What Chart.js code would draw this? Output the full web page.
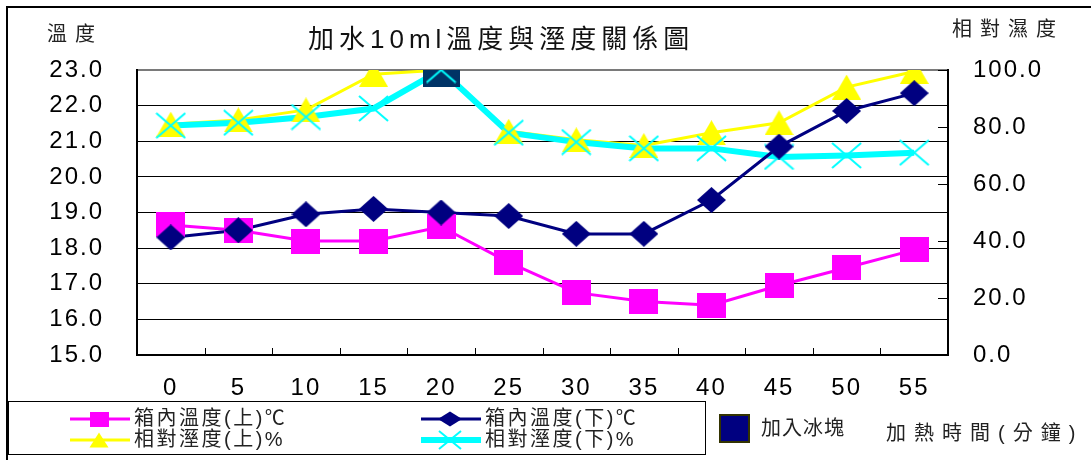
<!DOCTYPE html>
<html>
<head>
<meta charset="utf-8">
<script src="https://cdn.jsdelivr.net/npm/chart.js@4.4.0/dist/chart.umd.min.js"></script>
<style>
  html, body { margin: 0; padding: 0; background: #fff; }
  #wrap { position: relative; width: 1091px; height: 460px; }
</style>
</head>
<body>
<div id="wrap"><canvas id="c" width="1091" height="460"></canvas></div>
<script>
// Heating time (minutes)
const minutes = ['0', '5', '10', '15', '20', '25', '30', '35', '40', '45', '50', '55'];
// Box temperature, upper / lower (°C, left axis)
const tempUpper = [18.65, 18.5, 18.2, 18.2, 18.6, 17.6, 16.75, 16.5, 16.4, 16.95, 17.45, 17.95];
const tempLower = [18.3, 18.5, 18.95, 19.1, 19.0, 18.9, 18.4, 18.4, 19.35, 20.85, 21.85, 22.35];
// Relative humidity, upper / lower (%, right axis)
const humidUpper = [81, 82.5, 86, 98.5, 100, 78.5, 75.5, 73.5, 78, 81.5, 94, 99.5];
const humidLower = [80.5, 81.5, 83.5, 86.5, 100, 78, 74.7, 72.5, 72.5, 69.5, 70, 71];
// Moment the ice was added (right axis)
const iceAdded = [null, null, null, null, 99, null, null, null, null, null, null, null];

const seriesNames = ['箱內溫度(上)℃', '箱內溫度(下)℃', '相對溼度(上)%', '相對溼度(下)%'];
const iceLabel = '加入冰塊';
const chartTitle = '加水10ml溫度與溼度關係圖';
const leftTitle = '溫度';
const rightTitle = '相對濕度';
const xTitle = '加熱時間(分鐘)';

const MIXED = '"Liberation Sans", "Noto Sans CJK TC", sans-serif';
const COLORS = { magenta: '#ff00ff', navy: '#000080', yellow: '#ffff00', cyan: '#00ffff', ice: '#003366' };

// Marker bitmaps used as point styles
function markerCanvas(w, h, paint) {
  const c = document.createElement('canvas');
  c.width = w; c.height = h;
  paint(c.getContext('2d'), w, h);
  return c;
}
function pathDiamond(g, cx, cy, w, h) {
  g.beginPath(); g.moveTo(cx, cy - h / 2); g.lineTo(cx + w / 2, cy); g.lineTo(cx, cy + h / 2); g.lineTo(cx - w / 2, cy); g.closePath();
}
function pathTriangle(g, cx, cy, w, h) {
  g.beginPath(); g.moveTo(cx, cy - h / 2); g.lineTo(cx + w / 2, cy + h / 2); g.lineTo(cx - w / 2, cy + h / 2); g.closePath();
}
function pathCross(g, cx, cy, w, h) {
  g.beginPath(); g.moveTo(cx - w / 2, cy - h / 2); g.lineTo(cx + w / 2, cy + h / 2);
  g.moveTo(cx + w / 2, cy - h / 2); g.lineTo(cx - w / 2, cy + h / 2);
}
const squareMark = markerCanvas(29, 25, (g, w, h) => { g.fillStyle = COLORS.magenta; g.fillRect(0, 0, w, h); });
const diamondMark = markerCanvas(29, 26, (g, w, h) => { g.fillStyle = COLORS.navy; pathDiamond(g, w / 2, h / 2, w, h); g.fill(); });
const triangleMark = markerCanvas(29, 25, (g, w, h) => { g.fillStyle = COLORS.yellow; pathTriangle(g, w / 2, h / 2, w, h); g.fill(); });
const crossMark = markerCanvas(31, 27, (g, w, h) => { g.strokeStyle = COLORS.cyan; g.lineWidth = 2; pathCross(g, w / 2, h / 2, w - 2, h - 2); g.stroke(); });
const iceMark = markerCanvas(37, 29, (g, w, h) => { g.fillStyle = COLORS.ice; g.fillRect(0, 0, w, h); });

function lineSet(label, data, color, width, axis, order) {
  return { label, data, borderColor: color, backgroundColor: color, borderWidth: width, yAxisID: axis,
           pointRadius: 0, pointHoverRadius: 0, tension: 0, order };
}
function markSet(label, data, style, axis, order) {
  return { label, data, showLine: false, pointStyle: style, pointRadius: 14, pointHoverRadius: 14, yAxisID: axis, order };
}

// Small helper for spaced text
function spacedText(ctx, str, x, y, size, spacing, align, color) {
  ctx.save();
  ctx.font = `${size}px ${MIXED}`;
  ctx.letterSpacing = spacing + 'px';
  ctx.fillStyle = color;
  ctx.textAlign = align;
  ctx.textBaseline = 'middle';
  ctx.fillText(str, x, y);
  ctx.restore();
}

const decorPlugin = {
  id: 'decor',
  beforeDraw(chart) {
    chart.ctx.letterSpacing = '2px';
  },
  beforeDatasetsDraw(chart) {
    const { ctx, chartArea: a, scales } = chart;
    ctx.save();
    ctx.strokeStyle = '#000';
    ctx.lineWidth = 1;
    // inward category ticks on the bottom axis
    for (let i = 0; i <= minutes.length; i++) {
      const x = Math.round(scales.x.getPixelForValue(i - 0.5)) + 0.5;
      ctx.beginPath(); ctx.moveTo(x, a.bottom); ctx.lineTo(x, a.bottom - 7); ctx.stroke();
    }
    // inward ticks on the right axis
    for (let v = scales.yR.min; v <= scales.yR.max; v += 20) {
      const y = Math.round(scales.yR.getPixelForValue(v)) + 0.5;
      ctx.beginPath(); ctx.moveTo(a.right, y); ctx.lineTo(a.right - 10, y); ctx.stroke();
    }
    ctx.restore();
  },
  afterDraw(chart) {
    const ctx = chart.ctx;
    ctx.save();
    ctx.letterSpacing = '0px';
    // outer frame
    ctx.strokeStyle = '#000';
    ctx.lineWidth = 2;
    ctx.beginPath(); ctx.moveTo(7, 460); ctx.lineTo(7, 7); ctx.lineTo(1091, 7); ctx.stroke();
    // legend box
    ctx.lineWidth = 1;
    ctx.strokeRect(8.5, 401.5, 697, 53);

    // titles
    spacedText(ctx, chartTitle, 308, 41, 26, 5, 'left', '#111');
    spacedText(ctx, leftTitle, 47, 35, 20, 8, 'left', '#222');
    spacedText(ctx, rightTitle, 952, 30, 20, 8, 'left', '#222');
    spacedText(ctx, xTitle, 886, 434, 20, 8, 'left', '#222');

    // legend entries
    const entries = [
      { name: seriesNames[0], color: COLORS.magenta, width: 3, kind: 'square', col: 0, row: 0 },
      { name: seriesNames[1], color: COLORS.navy, width: 3, kind: 'diamond', col: 1, row: 0 },
      { name: seriesNames[2], color: COLORS.yellow, width: 3, kind: 'triangle', col: 0, row: 1 },
      { name: seriesNames[3], color: COLORS.cyan, width: 6, kind: 'cross', col: 1, row: 1 }
    ];
    const colX = [70, 421];
    const rowY = [419, 440];
    entries.forEach(e => {
      const x0 = colX[e.col], y = rowY[e.row], cx = x0 + 29;
      ctx.strokeStyle = e.color; ctx.lineWidth = e.width;
      ctx.beginPath(); ctx.moveTo(x0, y); ctx.lineTo(x0 + 60, y); ctx.stroke();
      ctx.fillStyle = e.color;
      if (e.kind === 'square') { ctx.fillRect(cx - 9, y - 7, 19, 15); }
      if (e.kind === 'diamond') { pathDiamond(ctx, cx, y, 24, 15); ctx.fill(); }
      if (e.kind === 'triangle') { pathTriangle(ctx, cx, y, 19, 15); ctx.fill(); }
      if (e.kind === 'cross') { ctx.lineWidth = 2; pathCross(ctx, cx, y, 22, 18); ctx.stroke(); }
      spacedText(ctx, e.name, x0 + 64, y, 20, 2.5, 'left', '#222');
    });
    // ice marker entry
    ctx.fillStyle = COLORS.navy;
    ctx.fillRect(720, 415, 29, 27);
    ctx.strokeStyle = '#333300'; ctx.lineWidth = 2;
    ctx.strokeRect(720, 415, 29, 27);
    spacedText(ctx, iceLabel, 761, 429, 20, 1, 'left', '#222');
    ctx.restore();
  }
};

const tickFont = { family: '"Liberation Sans", Arial, sans-serif', size: 24 };

new Chart(document.getElementById('c'), {
  type: 'line',
  data: {
    labels: minutes,
    datasets: [
      markSet(seriesNames[1], tempLower, diamondMark, 'yL', 0),
      markSet(seriesNames[3], humidLower, crossMark, 'yR', 1),
      markSet(iceLabel, iceAdded, iceMark, 'yR', 2),
      markSet(seriesNames[2], humidUpper, triangleMark, 'yR', 3),
      markSet(seriesNames[0], tempUpper, squareMark, 'yL', 4),
      lineSet(seriesNames[1], tempLower, COLORS.navy, 3, 'yL', 10),
      lineSet(seriesNames[3], humidLower, COLORS.cyan, 6, 'yR', 11),
      lineSet(seriesNames[2], humidUpper, COLORS.yellow, 3, 'yR', 12),
      lineSet(seriesNames[0], tempUpper, COLORS.magenta, 3, 'yL', 13)
    ]
  },
  options: {
    responsive: false,
    animation: false,
    devicePixelRatio: 1,
    layout: { padding: { top: 70, left: 0, right: 0, bottom: 0 } },
    plugins: { legend: { display: false }, title: { display: false }, tooltip: { enabled: false } },
    events: [],
    scales: {
      x: {
        type: 'category',
        offset: true,
        grid: { display: false, offset: true },
        border: { display: true, color: '#000', width: 2 },
        ticks: { font: tickFont, color: '#000', padding: 11, maxRotation: 0, autoSkip: false },
        afterFit(s) { s.height = 105; }
      },
      yL: {
        position: 'left',
        min: 15, max: 23,
        ticks: { stepSize: 1, font: tickFont, color: '#000', padding: 33, callback: v => v.toFixed(1) },
        grid: {
          drawTicks: false,
          color: c => (c.tick && c.tick.value === 23 ? '#7a7a7a' : '#000'),
          lineWidth: c => (c.tick && c.tick.value === 23 ? 2 : 1)
        },
        border: { display: true, color: '#000', width: 2 },
        afterFit(s) { s.width = 137; }
      },
      yR: {
        position: 'right',
        min: 0, max: 100,
        ticks: { stepSize: 20, font: tickFont, color: '#000', padding: 25, callback: v => v.toFixed(1) },
        grid: { display: false, drawTicks: false },
        border: { display: true, color: '#000', width: 2 },
        afterFit(s) { s.width = 143; }
      }
    }
  },
  plugins: [decorPlugin]
});
</script>
</body>
</html>
